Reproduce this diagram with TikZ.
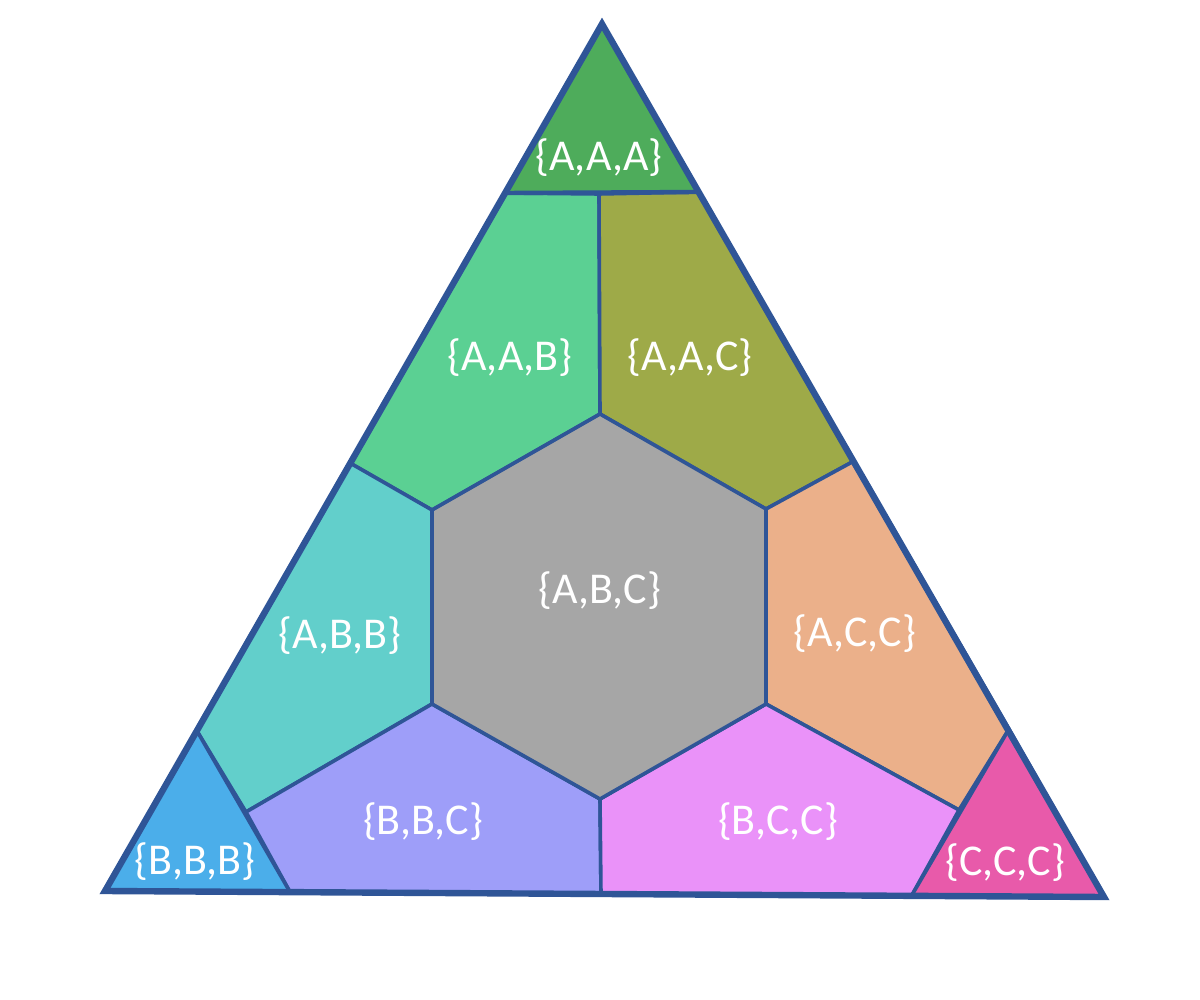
\documentclass[tikz,border=0pt]{standalone}
\usepackage{fontspec}
\setmainfont{Carlito}
\definecolor{edge}{RGB}{47,85,151}
\definecolor{cAAA}{RGB}{78,172,91}
\definecolor{cAAB}{RGB}{91,208,147}
\definecolor{cAAC}{RGB}{158,170,72}
\definecolor{cABB}{RGB}{98,207,203}
\definecolor{cABC}{RGB}{166,166,166}
\definecolor{cACC}{RGB}{235,176,138}
\definecolor{cBBB}{RGB}{75,174,234}
\definecolor{cBBC}{RGB}{158,158,249}
\definecolor{cBCC}{RGB}{234,146,249}
\definecolor{cCCC}{RGB}{232,90,170}
\begin{document}
\begin{tikzpicture}[x=0.5pt,y=-0.5pt,
  region/.style={draw=edge,line width=1.8pt,line join=round},
  outer/.style={draw=edge,line width=3.2pt,line join=miter},
  lab/.style={text=white,font=\fontsize{22}{26}\selectfont,inner sep=0pt}]
\useasboundingbox (0,0) rectangle (1200,1000);
% outer triangle
\coordinate (T) at (602,24);
\coordinate (L) at (105,891);
\coordinate (R) at (1104,897);
% points on the outer edges
\coordinate (aL) at (505,193);
\coordinate (aR) at (699,192);
\coordinate (aM) at (599,194);
\coordinate (pAB) at (350,463);
\coordinate (pAC) at (854,461);
\coordinate (bT) at (197,731);
\coordinate (bR) at (290,892);
\coordinate (cT) at (1009,729);
\coordinate (cL) at (912,895);
\coordinate (mB) at (601,894);
\coordinate (qB) at (246,812);
\coordinate (qC) at (959,810);
% hexagon
\coordinate (h1) at (600,414);
\coordinate (h2) at (766,509);
\coordinate (h3) at (766,704);
\coordinate (h4) at (600,799);
\coordinate (h5) at (432,704);
\coordinate (h6) at (432,510);
% regions
\filldraw[region,fill=cAAB] (aL) -- (aM) -- (h1) -- (h6) -- (pAB) -- cycle;
\filldraw[region,fill=cAAC] (aM) -- (aR) -- (pAC) -- (h2) -- (h1) -- cycle;
\filldraw[region,fill=cABB] (pAB) -- (h6) -- (h5) -- (qB) -- (bT) -- cycle;
\filldraw[region,fill=cACC] (pAC) -- (cT) -- (qC) -- (h3) -- (h2) -- cycle;
\filldraw[region,fill=cBBC] (qB) -- (h5) -- (h4) -- (mB) -- (bR) -- cycle;
\filldraw[region,fill=cBCC] (h4) -- (h3) -- (qC) -- (cL) -- (mB) -- cycle;
\filldraw[region,fill=cABC] (h1) -- (h2) -- (h3) -- (h4) -- (h5) -- (h6) -- cycle;
\filldraw[region,fill=cAAA,line width=2.2pt] (T) -- (aR) -- (aL) -- cycle;
\filldraw[region,fill=cBBB] (bT) -- (bR) -- (L) -- cycle;
\filldraw[region,fill=cCCC] (cT) -- (R) -- (cL) -- cycle;
\draw[outer] (T) -- (R) -- (L) -- cycle;
% labels
\node[lab] (lAAA) at (599,158) {\{A,A,A\}};
\node[lab] (lAAB) at (510,358) {\{A,A,B\}};
\node[lab] (lAAC) at (690,358) {\{A,A,C\}};
\node[lab] (lABB) at (340,636) {\{A,B,B\}};
\node[lab] (lABC) at (600,591) {\{A,B,C\}};
\node[lab] (lACC) at (855,634) {\{A,C,C\}};
\node[lab] (lBBC) at (423,822) {\{B,B,C\}};
\node[lab] (lBCC) at (778,822) {\{B,C,C\}};
\node[lab] (lBBB) at (195,862) {\{B,B,B\}};
\node[lab] (lCCC) at (1005,863) {\{C,C,C\}};
\end{tikzpicture}
\end{document}
